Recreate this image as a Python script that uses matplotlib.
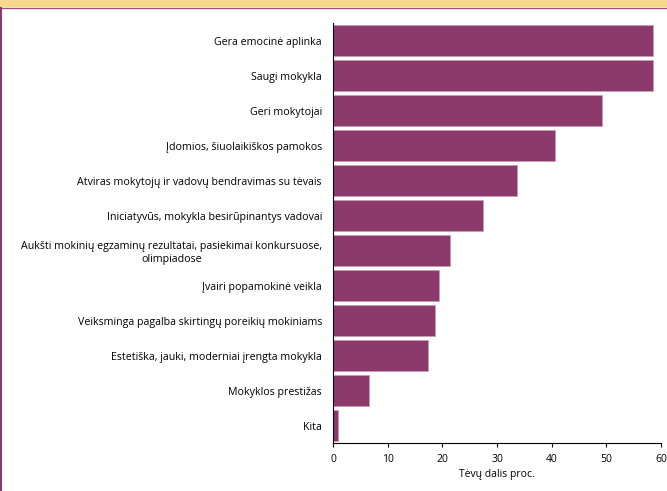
import matplotlib.pyplot as plt
from matplotlib.patches import Rectangle
from matplotlib.lines import Line2D

categories = [
    'Gera emocinė aplinka',
    'Saugi mokykla',
    'Geri mokytojai',
    'Įdomios, šiuolaikiškos pamokos',
    'Atviras mokytojų ir vadovų bendravimas su tėvais',
    'Iniciatyvūs, mokykla besirūpinantys vadovai',
    'Aukšti mokinių egzaminų rezultatai, pasiekimai konkursuose,\nolimpiadose',
    'Įvairi popamokinė veikla',
    'Veiksminga pagalba skirtingų poreikių mokiniams',
    'Estetiška, jauki, moderniai įrengta mokykla',
    'Mokyklos prestižas',
    'Kita',
]
values = [58.5, 58.5, 49.2, 40.6, 33.7, 27.4, 21.4, 19.4, 18.7, 17.4, 6.6, 0.9]
xticks = [0, 10, 20, 30, 40, 50, 60]

plt.rcParams['font.family'] = ['Open Sans', 'DejaVu Sans']

fig = plt.figure(figsize=(6.67, 4.91), dpi=100)
# top band and left border
fig.patches.append(Rectangle((0, 1 - 7 / 491), 1, 7 / 491, transform=fig.transFigure,
                             facecolor='#F9D889', edgecolor='none'))
fig.lines.append(Line2D([0, 1], [1 - 8 / 491, 1 - 8 / 491], transform=fig.transFigure,
                        color='#A0507E', linewidth=1))
fig.lines.append(Line2D([1.5 / 667, 1.5 / 667], [0, 1 - 8 / 491], transform=fig.transFigure,
                        color='#8B3A6B', linewidth=1.5))

ax = fig.add_axes([333 / 667, 1 - 443 / 491, 328 / 667, 420 / 491])
y = list(range(len(categories)))
ax.barh(y, values, height=0.9, color='#8B3A6B', edgecolor='#C99BB6', linewidth=0.6)
ax.set_yticks(y)
ax.set_yticklabels(categories, fontsize=7.7, multialignment='center')
ax.set_ylim(len(categories) - 0.5, -0.5)
ax.set_xlim(0, 60)
ax.set_xticks(xticks)
ax.tick_params(axis='x', labelsize=7.5, length=3, direction='out', pad=5)
ax.tick_params(axis='y', length=0, pad=8)
ax.set_xlabel('Tėvų dalis proc.', fontsize=7.5, labelpad=3)
for s in ['top', 'right']:
    ax.spines[s].set_visible(False)
ax.spines['left'].set_linewidth(0.8)
ax.spines['bottom'].set_linewidth(0.8)

fig.savefig('out.png', dpi=100)
